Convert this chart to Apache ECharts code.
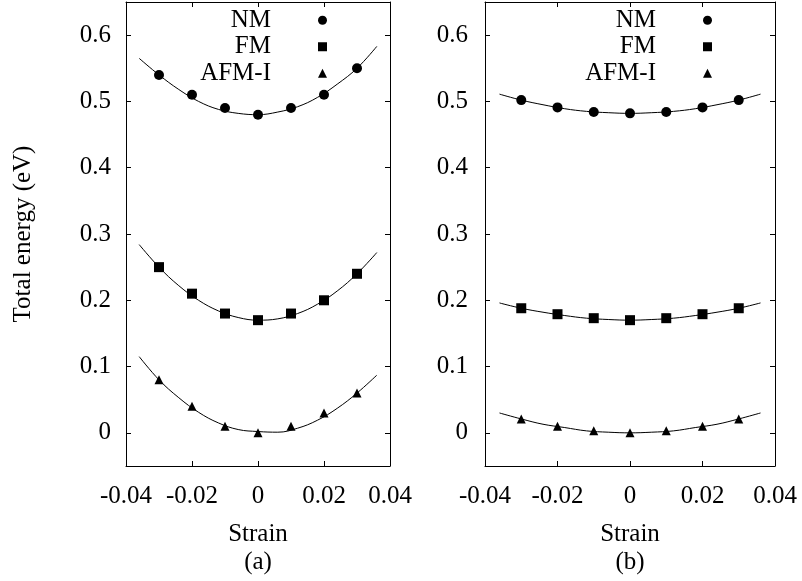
<!DOCTYPE html>
<html>
<head>
<meta charset="utf-8">
<script src="https://cdn.jsdelivr.net/npm/echarts@6/dist/echarts.min.js"></script>
<style>
  html, body { margin: 0; padding: 0; background: #fff; }
  #chart { width: 802px; height: 581px; }
</style>
</head>
<body>
<div id="chart"></div>
<script>
// measured strain points
const strain = [-0.03, -0.02, -0.01, 0, 0.01, 0.02, 0.03];
const fitStrain = [-0.036, -0.03, -0.024, -0.018, -0.012, -0.006, 0, 0.006, 0.012, 0.018, 0.024, 0.03, 0.036];

// panel (a)
const nmA = [0.54, 0.51, 0.49, 0.48, 0.49, 0.51, 0.55];
const fmA = [0.25, 0.21, 0.18, 0.17, 0.18, 0.20, 0.24];
const afmA = [0.08, 0.04, 0.01, 0.0, 0.01, 0.03, 0.06];
const nmFitA = [0.565, 0.540, 0.518, 0.500, 0.488, 0.482, 0.480, 0.484, 0.492, 0.506, 0.526, 0.550, 0.583];
const fmFitA = [0.284, 0.250, 0.222, 0.200, 0.184, 0.174, 0.170, 0.172, 0.180, 0.194, 0.214, 0.240, 0.272];
const afmFitA = [0.115, 0.080, 0.053, 0.031, 0.015, 0.005, 0.002, 0.001, 0.007, 0.019, 0.037, 0.060, 0.087];

// panel (b)
const nmB = [0.502, 0.491, 0.484, 0.482, 0.484, 0.491, 0.502];
const fmB = [0.188, 0.179, 0.173, 0.170, 0.173, 0.179, 0.188];
const afmB = [0.021, 0.010, 0.003, 0.0, 0.003, 0.010, 0.021];
const nmFitB = [0.511, 0.502, 0.495, 0.489, 0.485, 0.483, 0.482, 0.483, 0.485, 0.489, 0.495, 0.502, 0.511];
const fmFitB = [0.196, 0.188, 0.182, 0.177, 0.173, 0.171, 0.170, 0.171, 0.173, 0.177, 0.182, 0.188, 0.196];
const afmFitB = [0.030, 0.021, 0.013, 0.008, 0.003, 0.001, 0.0, 0.001, 0.003, 0.008, 0.013, 0.021, 0.030];

const yTicks = [0, 0.1, 0.2, 0.3, 0.4, 0.5, 0.6];
const seriesNames = ['NM', 'FM', 'AFM-I'];
const panelNames = ['(a)', '(b)'];

const FONT = 'Liberation Serif';
const pair = (xs, ys) => xs.map((x, i) => [x, ys[i]]);

const xAxisFor = (grid, position) => ({
  type: 'value',
  gridIndex: grid,
  position,
  min: -0.04,
  max: 0.04,
  interval: 0.02,
  name: position === 'bottom' ? 'Strain\n' + panelNames[grid] : '',
  nameLocation: 'middle',
  nameGap: 54,
  nameTextStyle: { fontSize: 25, color: '#000', fontFamily: FONT, lineHeight: 28 },
  axisLine: { show: true, onZero: false, lineStyle: { color: '#000', width: 1 } },
  axisTick: { show: true, inside: true, length: 5, lineStyle: { color: '#000' } },
  axisLabel: {
    show: position === 'bottom',
    margin: 18,
    fontSize: 25,
    color: '#000',
    fontFamily: FONT,
    showMinLabel: true,
    showMaxLabel: true
  },
  splitLine: { show: false }
});

const yAxisFor = (grid, position) => ({
  type: 'value',
  gridIndex: grid,
  position,
  min: -0.05,
  max: 0.65,
  name: position === 'left' && grid === 0 ? 'Total energy (eV)' : '',
  nameLocation: 'middle',
  nameGap: 90,
  nameTextStyle: { fontSize: 25, color: '#000', fontFamily: FONT },
  axisLine: { show: true, onZero: false, lineStyle: { color: '#000', width: 1 } },
  axisTick: { show: true, inside: true, length: 5, customValues: yTicks, lineStyle: { color: '#000' } },
  axisLabel: {
    show: position === 'left',
    customValues: yTicks,
    margin: grid === 0 ? 15 : 17,
    fontSize: 25,
    color: '#000',
    fontFamily: FONT
  },
  splitLine: { show: false }
});

const pointSeries = (name, grid, values, symbol, size) => ({
  name,
  type: 'scatter',
  xAxisIndex: grid * 2,
  yAxisIndex: grid * 2,
  symbol,
  symbolSize: size,
  itemStyle: { color: '#000', opacity: 1 },
  z: 5,
  data: pair(strain, values)
});

const fitSeries = (name, grid, values) => ({
  name: name + ' fit',
  type: 'line',
  xAxisIndex: grid * 2,
  yAxisIndex: grid * 2,
  showSymbol: false,
  smooth: 0.4,
  lineStyle: { color: '#000', width: 1 },
  z: 2,
  data: pair(fitStrain, values)
});

const legendFor = (right) => ({
  data: seriesNames,
  orient: 'vertical',
  align: 'right',
  right,
  top: 7,
  padding: 0,
  itemGap: 0,
  itemWidth: 9,
  itemHeight: 9,
  selectedMode: false,
  textStyle: { fontSize: 25, color: '#000', fontFamily: FONT, lineHeight: 26.5, padding: [0, 42, 0, 0] }
});

const chart = echarts.init(document.getElementById('chart'), null, { renderer: 'canvas' });

const option = {
  animation: false,
  textStyle: { fontFamily: FONT },
  grid: [
    { left: 126, right: 412, top: 2, bottom: 111 },
    { left: 485, right: 27, top: 2, bottom: 111 }
  ],
  xAxis: [
    xAxisFor(0, 'bottom'), xAxisFor(0, 'top'),
    xAxisFor(1, 'bottom'), xAxisFor(1, 'top')
  ],
  yAxis: [
    yAxisFor(0, 'left'), yAxisFor(0, 'right'),
    yAxisFor(1, 'left'), yAxisFor(1, 'right')
  ],
  legend: [legendFor(475), legendFor(90)],
  series: [
    fitSeries('NM', 0, nmFitA),
    fitSeries('FM', 0, fmFitA),
    fitSeries('AFM-I', 0, afmFitA),
    pointSeries('NM', 0, nmA, 'circle', 10),
    pointSeries('FM', 0, fmA, 'rect', 10),
    pointSeries('AFM-I', 0, afmA, 'triangle', 9),
    fitSeries('NM', 1, nmFitB),
    fitSeries('FM', 1, fmFitB),
    fitSeries('AFM-I', 1, afmFitB),
    pointSeries('NM', 1, nmB, 'circle', 10),
    pointSeries('FM', 1, fmB, 'rect', 10),
    pointSeries('AFM-I', 1, afmB, 'triangle', 9)
  ]
};

chart.setOption(option);
</script>
</body>
</html>
